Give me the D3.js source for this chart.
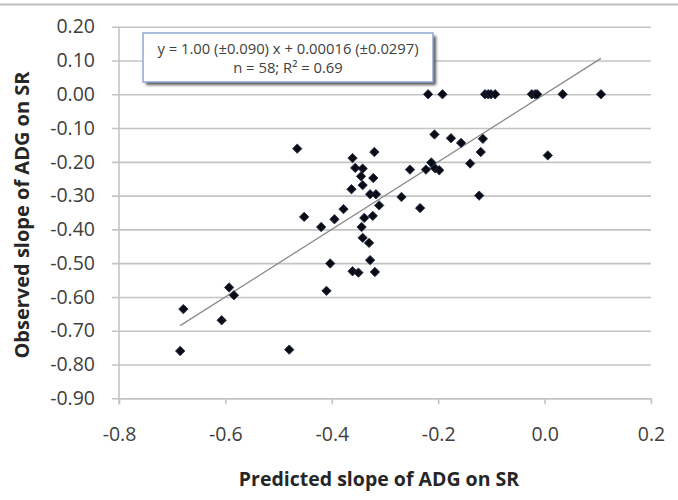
<!DOCTYPE html>
<html>
<head>
<meta charset="utf-8">
<script src="https://cdn.jsdelivr.net/npm/d3@7"></script>
<style>
  html, body { margin: 0; padding: 0; background: #fff; }
  svg { display: block; }
</style>
</head>
<body>
<svg id="chart" width="678" height="500"></svg>
<script>
// ---- Data ----
const predicted = [
  -0.219, -0.192, -0.112, -0.106, -0.101, -0.093, -0.024, -0.018, -0.014, 0.034, 0.106,
  -0.207, -0.176, -0.157, -0.116, -0.120, 0.006, -0.140, -0.123, -0.253, -0.223, -0.213,
  -0.206, -0.198, -0.269, -0.234,
  -0.465, -0.361, -0.320, -0.356, -0.342, -0.345, -0.322, -0.342, -0.363, -0.328, -0.317,
  -0.311, -0.378, -0.395, -0.452, -0.420, -0.339, -0.323, -0.344, -0.342, -0.330, -0.403,
  -0.328, -0.361, -0.350, -0.319, -0.410,
  -0.593, -0.584, -0.679, -0.607, -0.685, -0.480
];
const observed = [
  0, 0, 0, 0, 0, 0, 0, 0, 0, 0, 0,
  -0.119, -0.130, -0.144, -0.132, -0.171, -0.181, -0.205, -0.300, -0.223, -0.223, -0.202,
  -0.219, -0.225, -0.304, -0.337,
  -0.161, -0.189, -0.171, -0.218, -0.220, -0.243, -0.248, -0.269, -0.281, -0.296, -0.296,
  -0.329, -0.340, -0.370, -0.363, -0.393, -0.366, -0.360, -0.393, -0.425, -0.440, -0.501,
  -0.491, -0.524, -0.528, -0.526, -0.582,
  -0.572, -0.595, -0.636, -0.669, -0.760, -0.756
];
const xTicks = [-0.8, -0.6, -0.4, -0.2, 0.0, 0.2];
const yTicks = [0.20, 0.10, 0.00, -0.10, -0.20, -0.30, -0.40, -0.50, -0.60, -0.70, -0.80, -0.90];
const slope = 1.00;
const intercept = 0.00016;
const equationLines = ["y = 1.00 (\u00B10.090) x + 0.00016 (\u00B10.0297)", "n = 58; R\u00B2 = 0.69"];
const xTitle = "Predicted slope of ADG on SR";
const yTitle = "Observed slope of ADG on SR";

// ---- Layout ----
const FONT = "'Open Sans', 'Liberation Sans', sans-serif";
const svg = d3.select("#chart");
const pLeft = 119, pRight = 651, pTop = 26.7, pBottom = 398.3;
const loc = d3.formatLocale({decimal: ".", thousands: ",", grouping: [3], currency: ["", ""], minus: "-"});

const x = d3.scaleLinear().domain([-0.8, 0.2]).range([pLeft, pRight]);
const y = d3.scaleLinear().domain([-0.9, 0.2]).range([pBottom, pTop]);

// chart-area top border
svg.append("line").attr("x1", 0).attr("x2", 678).attr("y1", 4.5).attr("y2", 4.5)
  .attr("stroke", "#bdbdbd").attr("stroke-width", 2);

// horizontal gridlines + y axis
const yAxis = d3.axisLeft(y).tickValues(yTicks).tickSize(-(pRight - pLeft)).tickSizeOuter(0)
  .tickFormat(loc.format(".2f"));
const gy = svg.append("g").attr("transform", `translate(${pLeft},0)`).call(yAxis);
gy.select(".domain").remove();
gy.selectAll(".tick line").attr("x1", -7).attr("stroke", "#c4c4c4").attr("stroke-width", 1.6);
gy.selectAll(".tick text").attr("font-family", FONT).attr("font-size", 19.5).attr("fill", "#404040")
  .attr("x", -24);

// y axis line
svg.append("line").attr("x1", pLeft).attr("x2", pLeft).attr("y1", pTop).attr("y2", pBottom + 6)
  .attr("stroke", "#c4c4c4").attr("stroke-width", 1.6);

// x axis
const xAxis = d3.axisBottom(x).tickValues(xTicks).tickSize(6).tickSizeOuter(0)
  .tickFormat(loc.format(".1f")).tickPadding(23);
const gx = svg.append("g").attr("transform", `translate(0,${pBottom})`).call(xAxis);
gx.select(".domain").attr("stroke", "#c4c4c4").attr("stroke-width", 1.6);
gx.selectAll(".tick line").attr("stroke", "#c4c4c4").attr("stroke-width", 1.6);
gx.selectAll(".tick text").attr("font-family", FONT).attr("font-size", 19.5).attr("fill", "#404040");

// trendline across data range
const xmin = d3.min(predicted), xmax = d3.max(predicted);
svg.append("line")
  .attr("x1", x(xmin)).attr("y1", y(slope * xmin + intercept))
  .attr("x2", x(xmax)).attr("y2", y(slope * xmax + intercept))
  .attr("stroke", "#8a8a8a").attr("stroke-width", 1.3);

// points (diamonds)
const pts = predicted.map((v, i) => [v, observed[i]]);
svg.append("g").selectAll("path").data(pts).join("path")
  .attr("d", d3.symbol(d3.symbolSquare, 44)())
  .attr("transform", d => `translate(${x(d[0])},${y(d[1])}) rotate(45)`)
  .attr("fill", "#0b0b14")
  .attr("stroke", "#1c2c4a").attr("stroke-width", 0.8);

// equation box
const bx = 143, by = 33, bw = 290, bh = 49;
const defs = svg.append("defs");
const f = defs.append("filter").attr("id", "sh").attr("x", "-10%").attr("y", "-20%").attr("width", "130%").attr("height", "160%");
f.append("feGaussianBlur").attr("stdDeviation", 1.5);
svg.append("rect").attr("x", bx + 3).attr("y", by + 3).attr("width", bw).attr("height", bh)
  .attr("fill", "#555").attr("filter", "url(#sh)");
svg.append("rect").attr("x", bx).attr("y", by).attr("width", bw).attr("height", bh)
  .attr("fill", "#fff").attr("stroke", "#8da9cf").attr("stroke-width", 1.5);
svg.append("g").selectAll("text").data(equationLines).join("text")
  .attr("x", bx + bw / 2).attr("y", (d, i) => by + 21 + i * 19)
  .attr("text-anchor", "middle").attr("font-family", FONT).attr("font-size", 14.8)
  .attr("fill", "#404040").text(d => d);

// axis titles
svg.append("text").attr("x", 379).attr("y", 486).attr("text-anchor", "middle")
  .attr("font-family", FONT).attr("font-weight", "bold").attr("font-size", 19.5)
  .attr("fill", "#262626").text(xTitle);
svg.append("text").attr("transform", "translate(29,215) rotate(-90)").attr("text-anchor", "middle")
  .attr("font-family", FONT).attr("font-weight", "bold").attr("font-size", 20)
  .attr("fill", "#262626").text(yTitle);
</script>
</body>
</html>
